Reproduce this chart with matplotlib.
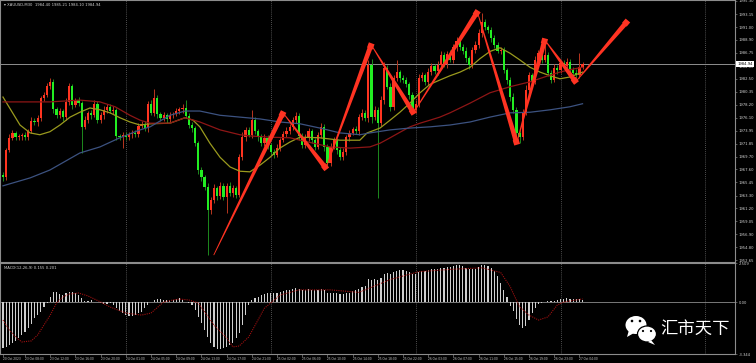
import numpy as np
import matplotlib
matplotlib.use("Agg")
import matplotlib.pyplot as plt
from matplotlib.patches import Polygon, Ellipse
import matplotlib.transforms as mtransforms

# ---- data ----
first_open = 1966.7
closes = [
    1966.3, 1970.8, 1972.8, 1973.6, 1972.9, 1973.1, 1973.3, 1972.9, 1973.9, 1975.6,
    1975.4, 1976.0, 1979.3, 1979.8, 1981.3, 1982.0, 1977.5, 1976.5, 1977.2, 1976.2,
    1978.7, 1981.3, 1978.2, 1979.0, 1978.5, 1974.6, 1975.7, 1976.9, 1976.5, 1978.4,
    1975.7, 1976.5, 1977.4, 1977.9, 1977.2, 1977.4, 1973.1, 1972.9, 1973.3, 1972.9,
    1973.4, 1973.6, 1973.4, 1974.7, 1975.1, 1974.4, 1978.4, 1976.9, 1979.3, 1976.7,
    1976.0, 1976.5, 1975.9, 1976.5, 1976.7, 1977.2, 1977.5, 1977.7, 1976.4, 1974.9,
    1974.4, 1971.9, 1967.5, 1966.3, 1964.7, 1960.9, 1962.6, 1964.5, 1963.2, 1964.9,
    1963.1, 1964.9, 1963.7, 1964.5, 1963.4, 1969.6, 1972.9, 1974.1, 1973.3, 1975.7,
    1973.9, 1972.9, 1971.9, 1972.8, 1971.6, 1970.5, 1970.0, 1971.1, 1972.4, 1973.4,
    1973.9, 1974.6, 1975.7, 1976.4, 1973.1, 1971.6, 1972.8, 1973.9, 1972.4, 1971.3,
    1973.3, 1974.6, 1971.3, 1968.7, 1971.3, 1972.4, 1970.8, 1969.6, 1970.5, 1972.9,
    1973.6, 1974.2, 1973.9, 1976.2, 1976.9, 1976.0, 1984.8, 1976.2, 1977.4, 1975.2,
    1979.0, 1984.3, 1981.2, 1977.9, 1982.6, 1983.6, 1982.6, 1982.3, 1981.6, 1979.8,
    1977.4, 1978.4, 1982.6, 1983.1, 1982.0, 1983.6, 1984.6, 1983.8, 1984.8, 1986.4,
    1984.9, 1986.6, 1985.6, 1987.7, 1988.7, 1987.7, 1987.1, 1985.9, 1984.8, 1987.2,
    1988.1, 1990.0, 1991.8, 1991.0, 1990.5, 1989.2, 1988.1, 1987.1, 1987.2, 1983.9,
    1982.3, 1979.5, 1977.4, 1973.6, 1972.9, 1976.9, 1980.7, 1983.1, 1982.0, 1985.6,
    1986.7, 1985.6, 1986.4, 1983.5, 1982.3, 1984.3, 1983.9, 1985.1, 1984.6, 1985.3,
    1983.9, 1983.5, 1983.1, 1984.4, 1984.94]
upper_wick = [
    0.5, 0.4, 0.6, 0.5, 0.3, 0.4, 0.3, 0.5, 0.4, 0.6,
    0.4, 0.5, 0.3, 0.6, 0.5, 0.7, 0.4, 0.3, 0.5, 0.4,
    0.6, 0.5, 0.4, 0.3, 0.5, 0.4, 0.6, 0.3, 0.5, 0.6,
    0.4, 0.5, 0.7, 0.4, 0.5, 0.6, 0.3, 0.4, 0.5, 0.4,
    0.3, 0.5, 0.4, 0.6, 0.5, 0.4, 0.5, 0.6, 1.5, 0.5,
    0.4, 0.5, 0.3, 0.6, 0.4, 0.5, 0.4, 0.6, 1.3, 0.4,
    0.5, 0.4, 0.3, 0.5, 0.4, 0.6, 0.5, 0.7, 0.4, 0.6,
    0.5, 0.4, 0.6, 0.5, 0.3, 0.6, 0.8, 0.5, 0.4, 1.7,
    0.5, 0.4, 0.6, 0.7, 0.5, 0.4, 0.5, 0.6, 0.4, 0.5,
    0.6, 0.4, 0.5, 0.7, 0.4, 0.5, 0.6, 0.5, 0.4, 0.3,
    0.5, 0.6, 0.4, 0.5, 0.7, 0.5, 0.4, 0.5, 0.6, 0.4,
    0.5, 0.4, 0.6, 0.5, 0.7, 0.4, 0.8, 0.9, 0.6, 0.5,
    0.7, 0.9, 0.5, 0.6, 0.5, 2.0, 0.4, 0.6, 0.5, 0.4,
    0.5, 0.6, 0.7, 0.5, 0.4, 0.6, 0.5, 0.4, 0.6, 0.7,
    0.5, 0.4, 0.6, 0.5, 0.7, 0.4, 0.5, 0.6, 0.4, 0.5,
    0.6, 0.7, 1.5, 0.5, 0.4, 0.6, 0.5, 0.4, 0.6, 0.5,
    0.4, 0.5, 0.6, 0.4, 0.5, 0.6, 0.7, 0.5, 0.4, 0.6,
    0.5, 0.6, 2.0, 0.5, 0.4, 0.6, 0.5, 0.4, 0.5, 0.6,
    0.4, 0.5, 0.6, 2.3, 0.27]
lower_wick = [
    0.6, 0.5, 0.4, 0.3, 0.5, 0.4, 0.6, 0.5, 0.4, 0.3,
    0.5, 0.6, 0.4, 0.5, 0.3, 0.4, 0.6, 0.5, 0.4, 0.7,
    0.4, 0.5, 0.6, 0.4, 0.5, 4.3, 0.4, 0.5, 0.6, 0.3,
    0.5, 0.4, 0.6, 0.5, 0.4, 0.5, 0.6, 0.4, 1.8, 0.5,
    0.4, 0.6, 0.5, 0.4, 0.3, 0.5, 0.6, 0.4, 0.5, 0.6,
    0.5, 0.4, 0.6, 0.5, 0.4, 0.3, 0.5, 0.6, 0.4, 0.5,
    0.6, 0.5, 0.7, 0.6, 0.5, 7.4, 0.6, 0.5, 0.7, 0.4,
    0.6, 2.7, 0.5, 0.6, 0.5, 0.4, 0.5, 0.6, 0.4, 0.5,
    0.4, 0.6, 0.5, 0.4, 0.7, 0.5, 0.6, 0.4, 0.5, 0.3,
    0.5, 0.4, 0.6, 0.5, 0.7, 0.4, 0.5, 0.6, 0.4, 0.5,
    0.4, 0.5, 0.6, 0.7, 0.5, 0.4, 0.6, 0.5, 0.4, 0.5,
    0.6, 0.4, 0.5, 0.6, 0.4, 0.5, 0.6, 0.9, 0.5, 12.3,
    0.5, 0.6, 0.4, 0.7, 0.5, 0.4, 0.6, 0.5, 0.4, 0.6,
    0.7, 0.5, 0.6, 0.4, 0.5, 0.6, 0.4, 0.5, 0.6, 0.4,
    0.5, 0.6, 0.4, 0.5, 0.6, 0.4, 0.5, 0.6, 0.7, 0.5,
    0.4, 0.5, 0.6, 0.4, 0.5, 0.6, 0.5, 0.4, 0.6, 0.5,
    0.6, 0.7, 0.5, 0.6, 1.0, 0.5, 0.4, 0.6, 0.5, 0.4,
    0.6, 0.5, 0.4, 0.6, 0.5, 0.4, 0.6, 0.5, 0.4, 0.5,
    0.6, 0.4, 0.5, 0.5, 0.3]

# moving averages, sampled (bar index, price)
ma_fast_x = [0, 5.4, 8.6, 11.7, 14.9, 18.1, 21.3, 24.4, 27.6, 30.8, 34.0, 37.1, 40.3, 43.5, 46.7,
             53.0, 57.8, 60.3, 62.5, 65.7, 68.9, 72.1, 75.2, 78.4, 81.6, 84.8, 87.9, 91.1, 94.3,
             100.6, 107.0, 113.3, 115.6, 119.7, 122.9, 126.0, 129.2, 132.4, 135.6, 138.7, 141.9,
             145.1, 148.3, 151.4, 154.6, 157.8, 161.0, 164.1, 167.3, 170.5, 173.7, 176.8, 180.0, 184.0]
ma_fast_y = [1979.5, 1974.9, 1973.6, 1973.3, 1973.8, 1974.9, 1976.2, 1977.0, 1977.7, 1977.4, 1976.9,
             1976.1, 1975.4, 1974.9, 1975.1, 1975.2, 1976.1, 1975.7, 1974.6, 1971.9, 1969.6, 1968.0,
             1967.3, 1967.2, 1968.3, 1969.6, 1971.1, 1972.1, 1972.9, 1972.8, 1972.4, 1972.4, 1973.6,
             1974.4, 1975.7, 1977.0, 1978.5, 1980.2, 1981.6, 1982.3, 1983.0, 1983.6, 1984.4, 1985.8,
             1987.0, 1987.6, 1986.7, 1985.6, 1984.4, 1983.6, 1983.0, 1982.5, 1982.8, 1983.6]
ma_mid_x = [0, 14.9, 24.4, 30.8, 35.6, 40.3, 43.5, 46.7, 53.0, 57.8, 62.5, 68.9, 75.2, 78.4, 84.8,
            91.1, 94.3, 103.8, 110.2, 116.5, 119.7, 122.9, 126.0, 129.2, 132.4, 135.6, 138.7,
            141.9, 148.3, 154.6, 161.0, 167.3, 173.7, 176.8, 180.0, 184.0]
ma_mid_y = [1978.7, 1978.7, 1979.0, 1978.7, 1977.9, 1976.5, 1975.7, 1975.2, 1975.2, 1976.1, 1975.4,
            1974.1, 1973.3, 1973.1, 1972.9, 1972.8, 1972.4, 1971.3, 1971.1, 1971.3, 1971.9, 1972.8,
            1973.7, 1974.6, 1975.2, 1975.7, 1976.2, 1976.9, 1978.5, 1980.2, 1981.2, 1982.0, 1983.1,
            1983.6, 1984.0, 1984.4]
ma_slow_x = [0, 8.6, 14.9, 24.4, 30.8, 37.1, 43.5, 46.7, 53.0, 57.8, 62.5, 68.9, 75.2, 81.6, 87.9,
             94.3, 100.6, 107.0, 113.3, 116.5, 122.9, 129.2, 135.6, 141.9, 148.3, 154.6, 161.0,
             167.3, 173.7, 180.0, 184.0]
ma_slow_y = [1964.9, 1966.2, 1967.5, 1970.3, 1971.3, 1972.8, 1974.1, 1974.6, 1976.5, 1977.2, 1977.2,
             1976.5, 1976.2, 1975.9, 1975.4, 1975.1, 1974.4, 1973.6, 1973.3, 1973.6, 1974.1, 1974.4,
             1974.6, 1974.9, 1975.4, 1976.2, 1976.9, 1977.0, 1977.4, 1977.9, 1978.4]

# MACD(12,26,9) histogram, one value per bar, and signal line samples
macd_hist = [
    -2.96, -2.9, -2.76, -2.66, -2.49, -2.34, -2.12, -1.91, -1.69, -1.41,
    -1.05, -0.84, -0.62, -0.3, -0.04, 0.34, 0.66, 0.66, 0.51, 0.45,
    0.56, 0.66, 0.66, 0.6, 0.45, 0.24, 0.09, 0.09, 0.13, 0.02,
    0.01, -0.09, -0.15, -0.15, -0.09, -0.19, -0.41, -0.56, -0.73, -0.84,
    -0.9, -0.9, -0.84, -0.73, -0.62, -0.41, -0.19, 0.02, 0.13, 0.19,
    0.17, 0.13, 0.13, 0.13, 0.15, 0.17, 0.24, 0.13, 0.02, -0.04,
    -0.19, -0.51, -0.94, -1.37, -1.8, -2.27, -2.66, -2.87, -3.0, -3.04,
    -2.98, -2.91, -2.76, -2.61, -2.34, -2.01, -1.48, -0.84, -0.19, 0.1,
    0.25, 0.35, 0.45, 0.5, 0.55, 0.55, 0.55, 0.6, 0.65, 0.7,
    0.75, 0.8, 0.85, 0.9, 0.85, 0.8, 0.8, 0.85, 0.8, 0.75,
    0.8, 0.85, 0.75, 0.6, 0.6, 0.6, 0.55, 0.5, 0.5, 0.55,
    0.6, 0.7, 0.75, 0.85, 0.95, 1.0, 1.5, 1.4, 1.45, 1.4,
    1.55, 1.8, 1.85, 1.8, 1.9, 2.0, 2.05, 2.05, 2.0, 1.95,
    1.8, 1.8, 1.9, 2.0, 2.0, 2.05, 2.1, 2.1, 2.15, 2.2,
    2.2, 2.25, 2.25, 2.3, 2.35, 2.35, 2.3, 2.2, 2.1, 2.1,
    2.15, 2.25, 2.35, 2.35, 2.3, 2.2, 2.0, 1.7, 1.22, 0.8,
    0.3, -0.25, -0.6, -1.1, -1.5, -1.69, -1.55, -1.15, -0.7, -0.4,
    -0.15, -0.04, 0.02, 0.06, 0.09, 0.09, 0.13, 0.17, 0.22, 0.24,
    0.22, 0.2, 0.2, 0.17, 0.155]
signal_x = [0, 2, 4, 6, 9, 11, 13, 15, 17, 19, 21, 24, 27, 31, 34, 39, 44, 47, 51, 54, 56, 59, 62,
            64, 67, 71, 73, 75, 78, 83, 88, 94, 104, 113, 123, 132, 142, 152, 158, 161, 164, 167,
            170, 173, 176, 178, 181, 184]
signal_y = [-1.16, -1.8, -2.25, -2.57, -2.5, -2.12, -1.48, -0.84, -0.06, 0.32, 0.51, 0.58, 0.39, 0.0,
            -0.32, -0.71, -0.84, -0.71, 0.0, 0.13, 0.19, 0.13, -0.06, -0.64, -1.48, -2.31, -2.89,
            -2.83, -2.25, -0.4, 0.45, 0.78, 0.78, 0.62, 1.45, 1.95, 2.1, 2.2, 1.9, 1.0, -0.32, -0.84,
            -1.16, -0.96, -0.19, 0.0, 0.1, 0.2]

# hand drawn zig-zag arrows (bar index, price)
arrow_x = [66.9, 88.9, 102.5, 116.9, 130.3, 150.6, 163.1, 172.0, 181.8, 198.1]
arrow_y = [1953.5, 1976.9, 1967.8, 1988.1, 1976.9, 1993.5, 1971.9, 1988.9, 1982.0, 1991.9]

price_ticks = [1995.30, 1993.15, 1991.00, 1988.90, 1986.75, 1984.60, 1982.50, 1980.35, 1978.20,
               1976.10, 1973.95, 1971.85, 1969.70, 1967.60, 1965.45, 1963.30, 1961.20, 1959.05,
               1956.90, 1954.80, 1952.65]
time_bars = [0, 7, 15, 23, 31, 39, 47, 55, 63, 71, 79, 87, 95, 103, 111, 119, 127, 135, 143,
             151, 159, 167, 175, 183]
time_labels = ["20 Oct 2023", "23 Oct 08:00", "23 Oct 12:00", "23 Oct 16:00", "23 Oct 20:00",
               "24 Oct 01:00", "24 Oct 05:00", "24 Oct 09:00", "24 Oct 13:00", "24 Oct 17:00",
               "24 Oct 21:00", "25 Oct 02:00", "25 Oct 06:00", "25 Oct 10:00", "25 Oct 14:00",
               "25 Oct 18:00", "25 Oct 22:00", "26 Oct 03:00", "26 Oct 07:00", "26 Oct 11:00",
               "26 Oct 15:00", "26 Oct 19:00", "26 Oct 23:00", "27 Oct 04:00"]
day_lines = [39, 85, 131, 177, 223]
bid = 1984.94

UP = "#ff3420"
DOWN = "#22ee22"
GRID = "#6a6a6a"
TXT = "#d2d2d2"

plt.rcParams["font.family"] = ["DejaVu Sans"]

fig = plt.figure(figsize=(7.56, 3.63), dpi=100, facecolor="black")
ax = fig.add_axes([0, 101 / 363, 735 / 756, 262 / 363], facecolor="black")
ax2 = fig.add_axes([0, 9 / 363, 735 / 756, 91 / 363], facecolor="black", sharex=ax)

ax.set_xlim(-0.95, 232.4)
ax.set_ylim(1952.37, 1995.46)
ax2.set_ylim(-3.344, 2.51)

for a in (ax, ax2):
    for s in a.spines.values():
        s.set_color("#8c8c8c")
        s.set_linewidth(0.8)
    for d in day_lines:
        a.axvline(d, color=GRID, lw=0.6, ls=(0, (1, 1.5)), zorder=1)

# candles: red = up, green = down
x = np.arange(len(closes))
c = np.array(closes)
o = np.array([first_open] + closes[:-1])
up = c >= o
hi = np.maximum(o, c) + np.array(upper_wick)
lo = np.minimum(o, c) - np.array(lower_wick)
ax.vlines(x[up], lo[up], hi[up], colors="#b8361e", lw=0.7, zorder=3)
ax.vlines(x[~up], lo[~up], hi[~up], colors="#1d8a1d", lw=0.7, zorder=3)
body = np.maximum(np.abs(c - o), 0.15)
ax.bar(x[up], body[up], bottom=np.minimum(o, c)[up], width=0.7, color=UP, lw=0, zorder=4)
ax.bar(x[~up], body[~up], bottom=np.minimum(o, c)[~up], width=0.7, color=DOWN, lw=0, zorder=4)

ax.plot(ma_fast_x, ma_fast_y, color="#9a9a1e", lw=0.9, zorder=5)
ax.plot(ma_mid_x, ma_mid_y, color="#8e1616", lw=0.9, zorder=5)
ax.plot(ma_slow_x, ma_slow_y, color="#3c5280", lw=0.9, zorder=5)

ax.axhline(bid, color="#8f8f8f", lw=0.7, zorder=2)


def taper(a, xa, ya, xb, yb, w0=0.8, w1=5.0, col="#ff3322"):
    # wedge that widens towards the end point, drawn in pixel space
    p0 = a.transData.transform((xa, ya))
    p1 = a.transData.transform((xb, yb))
    d = p1 - p0
    u = d / np.hypot(d[0], d[1])
    n = np.array([-u[1], u[0]])
    pts = [p0 + n * w0 / 2, p1 + n * w1 / 2, p1 - n * w1 / 2, p0 - n * w0 / 2]
    inv = a.transData.inverted()
    a.add_patch(Polygon(inv.transform(pts), closed=True, fc=col, ec="none", zorder=7))
    h = 3.0
    head = [p1 + n * h + u * 1.5, p1 - n * h + u * 1.5, p1 - n * h - u * 4, p1 + n * h - u * 4]
    a.add_patch(Polygon(inv.transform(head), closed=True, fc=col, ec="none", zorder=7))


for k in range(len(arrow_x) - 1):
    taper(ax, arrow_x[k], arrow_y[k], arrow_x[k + 1], arrow_y[k + 1])

# price scale on the right
ax.yaxis.tick_right()
ax.set_yticks(price_ticks)
ax.set_yticklabels(["%.2f" % p for p in price_ticks])
ax.tick_params(axis="y", colors="#9a9a9a", labelcolor=TXT, labelsize=2.7, length=1.5, width=0.4, pad=1)
ax.tick_params(axis="x", bottom=False, labelbottom=False)
ax.text(1.003, bid, "%.2f" % bid, transform=mtransforms.blended_transform_factory(ax.transAxes, ax.transData),
        fontsize=2.7, color="black", va="center", ha="left", zorder=9, clip_on=False,
        bbox=dict(boxstyle="square,pad=0.25", fc="white", ec="none"))
ax.text(0.005, 0.988, "\u25be XAUUSD,M30  1984.40 1985.21 1984.10 1984.94", transform=ax.transAxes,
        fontsize=2.7, color=TXT, va="top", ha="left")

# MACD panel
ax2.bar(x, macd_hist, width=0.36, color="#cfcfcf", lw=0, zorder=3)
ax2.plot(signal_x, signal_y, color="#a01010", lw=0.8, ls=(0, (1, 1)), zorder=4)
ax2.axhline(0, color="#8c8c8c", lw=0.6, zorder=2)
ax2.yaxis.tick_right()
ax2.set_yticks([2.509, 0.0, -3.344])
ax2.set_yticklabels(["2.509", "0.00", "-3.344"])
ax2.tick_params(axis="y", colors="#9a9a9a", labelcolor=TXT, labelsize=2.7, length=1.5, width=0.4, pad=1)
ax2.text(0.005, 0.97, "MACD(12,26,9) 0.155 0.201", transform=ax2.transAxes,
         fontsize=2.7, color=TXT, va="top", ha="left")

ax2.set_xticks(time_bars)
ax2.set_xticklabels(time_labels)
ax2.tick_params(axis="x", colors="#9a9a9a", labelcolor=TXT, labelsize=2.05, length=2, width=0.4, pad=0.5)
for lab in ax2.get_xticklabels():
    lab.set_horizontalalignment("left")

# watermark (WeChat logo + name)
ov = fig.add_axes([0, 0, 1, 1], zorder=10)
ov.set_xlim(0, 756)
ov.set_ylim(363, 0)
ov.axis("off")
ov.add_patch(Ellipse((636, 325), 21, 18, fc="white", ec="none"))
ov.add_patch(Polygon([[629, 330], [627, 337], [634, 333]], closed=True, fc="white", ec="none"))
for ex in (632, 640):
    ov.add_patch(Ellipse((ex, 321), 2.6, 2.6, fc="black", ec="none"))
ov.add_patch(Ellipse((647, 334), 19, 16, fc="white", ec="black", lw=0.9))
ov.add_patch(Polygon([[651, 340], [655, 345], [648, 342]], closed=True, fc="white", ec="none"))
for ex in (643, 651):
    ov.add_patch(Ellipse((ex, 331), 2.2, 2.2, fc="black", ec="none"))
ov.text(660, 329, "汇市天下", fontsize=12.5, color="white", va="center", ha="left",
        family=["Noto Sans CJK SC", "DejaVu Sans"])

fig.savefig("out.png", dpi=100, facecolor="black")
